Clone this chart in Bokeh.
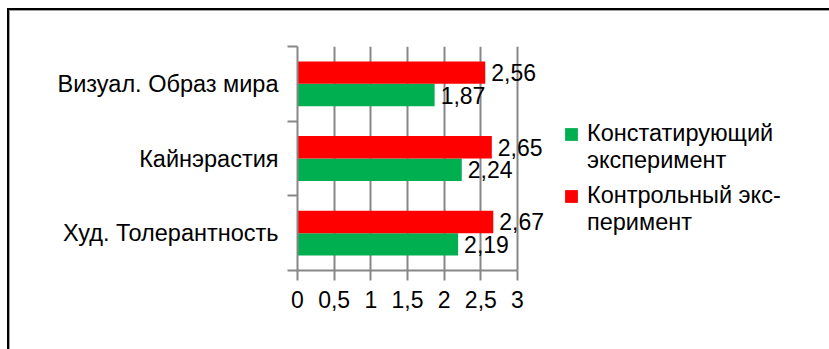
from bokeh.plotting import figure
from bokeh.models import (Range1d, FixedTicker, ColumnDataSource, Legend, LegendItem, LabelSet)
from bokeh.core.properties import value
from bokeh.embed import file_html
from bokeh.resources import INLINE

categories = ["Худ. Толерантность", "Кайнэрастия", "Визуал. Образ мира"]
konstat = [2.19, 2.24, 1.87]
kontrol = [2.67, 2.65, 2.56]
series_names = [["Констатирующий", "эксперимент"], ["Контрольный экс-", "перимент"]]
x_ticks = [0, 0.5, 1, 1.5, 2, 2.5, 3]
x_tick_labels = ["0", "0,5", "1", "1,5", "2", "2,5", "3"]

FONT = "Liberation Sans"
GREEN = "#00B050"
RED = "#FF0000"
GRAY = "#878787"

pos = [i + 0.5 for i in range(len(categories))]
bar_h = 0.3

src_g = ColumnDataSource(dict(y=[p_ - bar_h / 2 for p_ in pos], v=konstat,
                              t=[f"{v:.2f}".replace(".", ",") for v in konstat]))
src_r = ColumnDataSource(dict(y=[p_ + bar_h / 2 for p_ in pos], v=kontrol,
                              t=[f"{v:.2f}".replace(".", ",") for v in kontrol]))

p = figure(width=819, height=338, output_backend="svg", toolbar_location=None,
           x_range=Range1d(0, 7.2), y_range=Range1d(0, len(categories)),
           frame_width=528, frame_height=224,
           min_border_left=287, min_border_right=4, min_border_top=35, min_border_bottom=79)
p.margin = (8, 0, 0, 7)
p.styles = {"border-left": "2px solid black", "border-top": "2px solid black",
            "padding-left": "1px", "padding-top": "1px",
            "background": ("linear-gradient(#a0a0a0,#a0a0a0) left top / 1px 100% no-repeat, "
                           "linear-gradient(#a0a0a0,#a0a0a0) left top / 100% 1px no-repeat, white")}
p.outline_line_color = None
p.background_fill_color = "white"
p.border_fill_color = "white"

rg = p.hbar(y="y", right="v", left=0, height=bar_h, source=src_g, color=GREEN, line_color=None)
rr = p.hbar(y="y", right="v", left=0, height=bar_h, source=src_r, color=RED, line_color=None)
blank = p.hbar(y=[], right=[], left=0, height=bar_h, fill_alpha=0, line_alpha=0)

for src in (src_g, src_r):
    p.add_layout(LabelSet(x="v", y="y", text="t", source=src, x_offset=6, y_offset=0,
                          text_baseline="middle", text_align="left",
                          text_font=value(FONT), text_font_size="23px", text_color="black"))

# x axis
xa = p.xaxis[0]
xa.ticker = FixedTicker(ticks=x_ticks)
xa.bounds = (0, 3)
xa.major_label_overrides = {t: l for t, l in zip(x_ticks, x_tick_labels)}
xa.axis_line_color = GRAY
xa.axis_line_width = 2
xa.major_tick_line_color = GRAY
xa.major_tick_line_width = 2
xa.major_tick_out = 10
xa.major_tick_in = 0
xa.minor_tick_line_color = None
xa.major_label_text_font = FONT
xa.major_label_text_font_size = "23px"
xa.major_label_text_color = "black"
xa.major_label_standoff = 10

# y axis
ya = p.yaxis[0]
ya.ticker = FixedTicker(ticks=pos, minor_ticks=list(range(len(categories) + 1)))
ya.major_label_overrides = {t: c for t, c in zip(pos, categories)}
ya.axis_line_color = GRAY
ya.axis_line_width = 2
ya.major_tick_line_color = None
ya.major_tick_out = 0
ya.major_tick_in = 0
ya.minor_tick_line_color = GRAY
ya.minor_tick_line_width = 2
ya.minor_tick_out = 10
ya.minor_tick_in = 0
ya.major_label_text_font = FONT
ya.major_label_text_font_size = "23.5px"
ya.major_label_text_color = "black"
ya.major_label_standoff = 9

p.ygrid.grid_line_color = None
p.xgrid.ticker = FixedTicker(ticks=x_ticks[1:])
p.xgrid.bounds = (0, 3)
p.xgrid.grid_line_color = GRAY
p.xgrid.grid_line_width = 2

for renderer, lines, loc in ((rg, series_names[0], (266, 96)), (rr, series_names[1], (266, 34))):
    lg = Legend(items=[LegendItem(label=lines[0], renderers=[renderer]),
                       LegendItem(label=lines[1], renderers=[blank])],
                location=loc)
    lg.border_line_color = None
    lg.background_fill_alpha = 0
    lg.padding = 0
    lg.margin = 0
    lg.spacing = 0
    lg.glyph_width = 16
    lg.glyph_height = 16
    lg.label_standoff = 8
    lg.label_text_font = FONT
    lg.label_text_font_size = "23.5px"
    lg.label_text_color = "black"
    p.add_layout(lg, "center")

open("out.html", "w").write(file_html(p, INLINE))
